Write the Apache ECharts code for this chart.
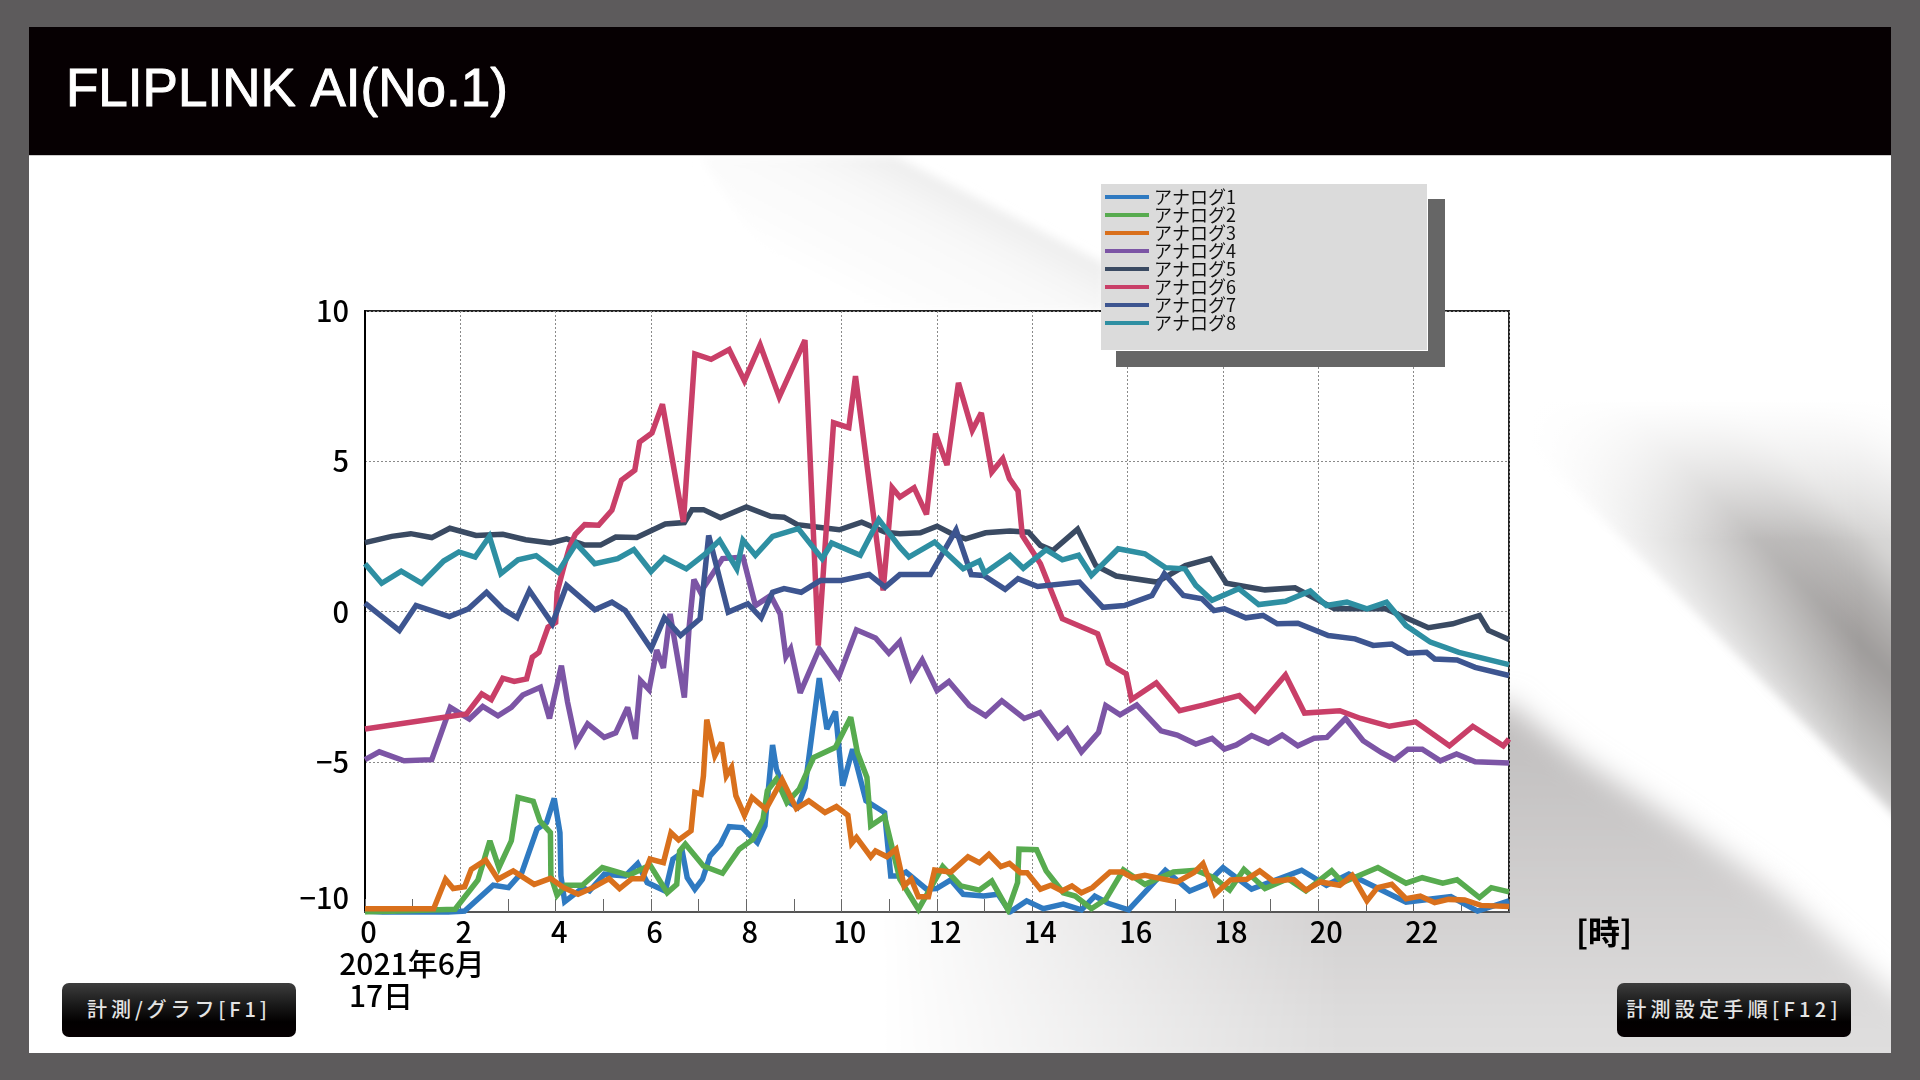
<!DOCTYPE html>
<html lang="ja"><head><meta charset="utf-8">
<script src="https://cdn.jsdelivr.net/npm/echarts@6/dist/echarts.min.js"></script>
<style>
html,body{margin:0;padding:0;width:1920px;height:1080px;overflow:hidden;background:#5d5b5c}
#bg{position:absolute;left:0;top:0;width:1920px;height:1080px}
#head{position:absolute;left:29px;top:27px;width:1862px;height:128px;background:#060002;border-bottom:1px solid #ccc}
#chart{position:absolute;left:0;top:0;width:1920px;height:1080px}
.btn{position:absolute;top:983px;height:54px;line-height:51px;border-radius:7px;text-align:center;color:#e4e4e4;
 background:linear-gradient(#3d3d3d 0%,#1a1a1a 40%,#020000 72%,#060002 100%);font-family:"Noto Sans CJK JP";font-weight:500;font-size:20px;white-space:nowrap}
</style></head><body>
<svg id="bg" viewBox="0 0 1920 1080" xmlns="http://www.w3.org/2000/svg">
 <defs>
  <clipPath id="pg"><rect x="29" y="27" width="1862" height="1026"/></clipPath>
  <filter id="b14" filterUnits="userSpaceOnUse" x="0" y="0" width="2100" height="1200"><feGaussianBlur stdDeviation="14"/></filter>
  <filter id="b5" filterUnits="userSpaceOnUse" x="0" y="0" width="2100" height="1200"><feGaussianBlur stdDeviation="5"/></filter>
  <linearGradient id="gT" gradientUnits="userSpaceOnUse" x1="1000" y1="211" x2="930" y2="345"><stop offset="0" stop-color="#eeeeee"/><stop offset=".3" stop-color="#f8f8f8"/><stop offset="1" stop-color="#fff"/></linearGradient>
  <linearGradient id="gA" gradientUnits="userSpaceOnUse" x1="1700" y1="618" x2="1920" y2="401">
   <stop offset="0" stop-color="#d8d7d7"/><stop offset=".08" stop-color="#c2c1c0"/><stop offset=".31" stop-color="#9e9b9a"/><stop offset=".45" stop-color="#b5b3b2"/><stop offset=".58" stop-color="#d5d4d3"/><stop offset=".76" stop-color="#e3e2e2"/><stop offset=".95" stop-color="#fff"/></linearGradient>
  <linearGradient id="mA" gradientUnits="userSpaceOnUse" x1="1530" y1="0" x2="1860" y2="0"><stop offset="0" stop-color="#000"/><stop offset="1" stop-color="#fff"/></linearGradient>
  <mask id="maskA" maskUnits="userSpaceOnUse" x="0" y="0" width="2100" height="1200"><rect x="0" y="0" width="2100" height="1200" fill="url(#mA)"/></mask>
  <linearGradient id="fadeA" gradientUnits="userSpaceOnUse" x1="0" y1="400" x2="0" y2="540"><stop offset="0" stop-color="#fff" stop-opacity="1"/><stop offset="1" stop-color="#fff" stop-opacity="0"/></linearGradient>
  <linearGradient id="gB" gradientUnits="userSpaceOnUse" x1="1600" y1="740" x2="1600" y2="1040"><stop offset="0" stop-color="#c2c0c0"/><stop offset=".45" stop-color="#cfcdcd"/><stop offset="1" stop-color="#dfdede"/></linearGradient>
  <linearGradient id="mB" gradientUnits="userSpaceOnUse" x1="880" y1="0" x2="1340" y2="0"><stop offset="0" stop-color="#000"/><stop offset="1" stop-color="#fff"/></linearGradient>
  <mask id="maskB" maskUnits="userSpaceOnUse" x="0" y="0" width="2100" height="1200"><rect x="0" y="0" width="2100" height="1200" fill="url(#mB)"/></mask>
 </defs>
 <g clip-path="url(#pg)">
  <rect x="29" y="27" width="1862" height="1026" fill="#fff"/>
  <polygon points="700,156 895,156 1105,264 1105,312 800,312" fill="url(#gT)" filter="url(#b5)"/>
  <g mask="url(#maskA)"><polygon points="1513,428 1891,812 1960,880 1960,340 1513,340" fill="url(#gA)" filter="url(#b5)"/></g>
  <rect x="1400" y="300" width="560" height="240" fill="url(#fadeA)"/>
  <g mask="url(#maskB)"><polygon points="1513,707 1580,759 1680,823 1780,893 1891,991 1960,1040 1960,1100 850,1100 850,900 1513,700" fill="url(#gB)" filter="url(#b14)"/></g>
 </g>
</svg>
<div id="head"></div>
<div id="chart"></div>
<div class="btn" style="left:62px;width:234px;letter-spacing:3.9px">計測/グラフ[F1]</div>
<div class="btn" style="left:1617px;width:234px;letter-spacing:4.3px">計測設定手順[F12]</div>
<script>
const seriesNames=['アナログ1','アナログ2','アナログ3','アナログ4','アナログ5','アナログ6','アナログ7','アナログ8'];
const seriesColors=['#2f7ac1','#57ab4f','#d9701c','#7c55a5','#3a4a62','#c93f68','#3d5590','#2e8fa2'];
const yTicks=[-10,-5,0,5,10];
const a1=[[0,-10.2],[2.09,-9.97],[2.69,-9.11],[3.01,-9.19],[3.29,-8.69],[3.61,-7.24],[3.81,-7.02],[3.97,-6.22],[4.09,-7.36],[4.11,-8.8],[4.19,-9.66],[4.57,-9.19],[4.71,-9.3],[5.02,-8.74],[5.46,-8.8],[5.72,-8.39],[5.92,-9.02],[6.3,-9.3],[6.46,-8.24],[6.66,-8.02],[6.76,-8.86],[6.92,-9.24],[7.08,-8.91],[7.24,-8.13],[7.46,-7.74],[7.64,-7.16],[7.91,-7.19],[8.23,-7.69],[8.39,-7.13],[8.55,-4.44],[8.63,-5.24],[8.91,-6.36],[9.07,-6.52],[9.23,-5.86],[9.53,-2.22],[9.69,-3.91],[9.87,-3.33],[10.02,-5.8],[10.23,-4.58],[10.51,-6.3],[10.9,-6.69],[11.03,-8.8],[11.2,-8.8],[11.35,-8.67],[11.78,-9.24],[11.99,-9.22],[12.29,-8.93],[12.55,-9.41],[12.98,-9.47],[13.28,-9.41],[13.53,-10],[13.88,-9.63],[14.23,-9.89],[14.65,-9.74],[15.03,-9.93],[15.31,-9.47],[15.59,-9.71],[16.02,-9.93],[16.79,-8.61],[17.3,-9.3],[17.64,-9.08],[18,-8.52],[18.6,-9.24],[19.65,-8.61],[20.17,-9.11],[20.64,-8.74],[21.84,-9.67],[22.78,-9.49],[23.34,-9.97],[24,-9.63]];
const a2=[[0,-10],[1.89,-9.91],[2.37,-8.93],[2.62,-7.63],[2.81,-8.52],[3.07,-7.63],[3.21,-6.19],[3.53,-6.32],[3.67,-6.97],[3.89,-7.36],[3.9,-8.8],[4.03,-9.44],[4.21,-9.11],[4.56,-9.11],[4.98,-8.52],[5.54,-8.78],[5.98,-8.44],[6.34,-9.36],[6.54,-9.08],[6.6,-7.97],[6.72,-7.74],[7.1,-8.47],[7.5,-8.71],[7.85,-7.91],[8.14,-7.58],[8.35,-6.91],[8.44,-5.97],[8.63,-5.58],[8.85,-6.36],[9.11,-5.91],[9.41,-4.86],[9.87,-4.52],[10.19,-3.52],[10.33,-4.69],[10.53,-5.52],[10.61,-7.13],[10.9,-6.82],[11.22,-8.91],[11.61,-9.91],[12.12,-8.49],[12.5,-9.13],[12.89,-9.27],[13.15,-8.97],[13.49,-9.93],[13.69,-9.02],[13.72,-7.91],[14.09,-7.93],[14.29,-8.63],[14.65,-9.36],[14.9,-9.47],[15.24,-9.89],[15.54,-9.58],[15.91,-8.6],[16.36,-9.08],[16.96,-8.67],[17.43,-8.61],[17.81,-8.86],[18.14,-9.27],[18.44,-8.58],[18.88,-9.22],[19.36,-8.89],[19.74,-9.3],[20.28,-8.63],[20.51,-9.02],[21.25,-8.52],[21.84,-9.04],[22.18,-8.86],[22.61,-9.04],[22.91,-8.93],[23.38,-9.52],[23.63,-9.19],[24,-9.33]];
const a3=[[0,-9.89],[1.44,-9.89],[1.69,-8.91],[1.85,-9.22],[2.09,-9.16],[2.23,-8.58],[2.53,-8.27],[2.79,-8.91],[3.11,-8.63],[3.55,-9.08],[3.89,-8.88],[4.17,-9.19],[4.47,-9.41],[4.78,-9.19],[5.12,-8.89],[5.34,-9.22],[5.6,-8.89],[5.82,-8.89],[5.98,-8.24],[6.26,-8.36],[6.42,-7.36],[6.58,-7.6],[6.84,-7.3],[6.92,-6.02],[7.05,-6.08],[7.1,-5.47],[7.17,-3.6],[7.34,-4.8],[7.48,-4.36],[7.58,-5.47],[7.69,-5.19],[7.78,-6.13],[7.96,-6.78],[8.12,-6.19],[8.41,-6.58],[8.75,-5.6],[9.05,-6.56],[9.31,-6.3],[9.65,-6.69],[9.89,-6.49],[10.13,-6.78],[10.21,-7.71],[10.31,-7.52],[10.61,-8.16],[10.71,-7.97],[10.95,-8.16],[11.14,-7.91],[11.31,-9.13],[11.46,-8.91],[11.61,-9.49],[11.82,-9.49],[11.95,-8.6],[12.29,-8.67],[12.65,-8.16],[12.89,-8.36],[13.09,-8.08],[13.34,-8.49],[13.52,-8.38],[13.75,-8.69],[13.89,-8.69],[14.17,-9.24],[14.39,-9.11],[14.62,-9.3],[14.83,-9.13],[15.03,-9.36],[15.26,-9.19],[15.63,-8.67],[15.89,-8.67],[16.1,-8.86],[16.36,-8.78],[17.04,-9],[17.39,-8.69],[17.58,-8.39],[17.83,-9.41],[18.16,-8.93],[18.5,-8.91],[18.77,-8.63],[19.05,-8.97],[19.48,-8.91],[19.74,-9.27],[20.04,-9],[20.45,-9.11],[20.71,-8.78],[21.02,-9.63],[21.24,-9.19],[21.54,-9.08],[21.84,-9.56],[22.14,-9.47],[22.44,-9.69],[22.73,-9.58],[23.07,-9.6],[23.41,-9.78],[24,-9.82]];
const a4=[[0,-4.93],[.3,-4.67],[.82,-4.97],[1.4,-4.93],[1.79,-3.19],[2.19,-3.58],[2.47,-3.16],[2.79,-3.47],[3.07,-3.19],[3.31,-2.78],[3.68,-2.52],[3.87,-3.56],[4.12,-1.8],[4.25,-3.02],[4.43,-4.38],[4.67,-3.74],[5.02,-4.19],[5.26,-4.04],[5.51,-3.19],[5.67,-4.24],[5.78,-2.3],[5.96,-2.6],[6.12,-1.28],[6.26,-1.88],[6.4,-.08],[6.7,-2.86],[6.8,-.52],[6.9,1.06],[7.04,.64],[7.5,1.76],[7.93,1.81],[8.19,.2],[8.51,.53],[8.71,-.08],[8.83,-1.5],[8.93,-1.24],[9.13,-2.71],[9.53,-1.24],[9.94,-2.17],[10.31,-.61],[10.71,-.88],[10.99,-1.39],[11.22,-1],[11.46,-2.21],[11.69,-1.61],[12,-2.63],[12.25,-2.33],[12.68,-3.13],[13.02,-3.47],[13.36,-2.97],[13.83,-3.56],[14.16,-3.36],[14.54,-4.19],[14.73,-3.91],[15.03,-4.67],[15.39,-4.02],[15.54,-3.13],[15.84,-3.44],[16.19,-3.11],[16.7,-3.97],[17.04,-4.11],[17.43,-4.41],[17.77,-4.22],[18.03,-4.58],[18.28,-4.44],[18.6,-4.13],[18.95,-4.38],[19.24,-4.11],[19.57,-4.47],[19.91,-4.22],[20.18,-4.19],[20.57,-3.56],[20.94,-4.3],[21.32,-4.69],[21.6,-4.93],[21.88,-4.58],[22.18,-4.58],[22.56,-4.97],[22.9,-4.74],[23.29,-5],[24,-5.04]];
const a5=[[0,2.29],[.56,2.5],[.96,2.59],[1.4,2.46],[1.78,2.77],[2.33,2.53],[2.89,2.57],[3.37,2.39],[3.89,2.28],[4.23,2.42],[4.61,2.21],[4.94,2.21],[5.26,2.48],[5.7,2.46],[6.3,2.91],[6.7,2.96],[6.86,3.39],[7.1,3.39],[7.46,3.12],[8,3.48],[8.51,3.17],[8.79,3.14],[9.07,2.89],[9.47,2.81],[9.95,2.72],[10.42,2.97],[10.91,2.64],[11.22,2.59],[11.65,2.62],[12,2.84],[12.33,2.57],[12.6,2.42],[13.02,2.62],[13.53,2.68],[13.92,2.64],[14.17,2.2],[14.43,2.03],[14.95,2.74],[15.33,1.53],[15.76,1.18],[16.61,.98],[17.21,1.53],[17.74,1.76],[18.07,.94],[18.88,.72],[19.51,.79],[20.34,.09],[21.41,.09],[22.31,-.54],[22.82,-.41],[23.38,-.13],[23.57,-.63],[24,-.93]];
const a6=[[0,-3.91],[2.13,-3.41],[2.45,-2.74],[2.65,-2.93],[2.89,-2.22],[3.13,-2.33],[3.39,-2.24],[3.51,-1.52],[3.65,-1.36],[3.84,-.52],[4,-.36],[4.03,.64],[4.17,1.48],[4.29,2.14],[4.41,2.57],[4.61,2.89],[4.9,2.87],[5.18,3.37],[5.38,4.37],[5.66,4.7],[5.76,5.64],[6.02,5.94],[6.24,6.9],[6.68,2.98],[6.92,8.57],[7.26,8.39],[7.64,8.72],[7.96,7.68],[8.29,8.87],[8.69,7.14],[9.23,9.03],[9.51,-1.13],[9.83,6.28],[10.15,6.12],[10.29,7.83],[10.87,.7],[11.06,4.12],[11.22,3.81],[11.52,4.12],[11.78,3.23],[11.97,5.92],[12.21,4.87],[12.45,7.61],[12.74,6.03],[12.93,6.61],[13.15,4.64],[13.38,5.09],[13.52,4.42],[13.7,4.01],[13.79,2.53],[14.17,1.59],[14.63,-.24],[15.37,-.74],[15.59,-1.72],[15.97,-2.08],[16.08,-2.93],[16.6,-2.38],[17.09,-3.3],[17.6,-3.11],[18.34,-2.8],[18.67,-3.3],[19.31,-2.11],[19.71,-3.38],[20.45,-3.3],[20.89,-3.56],[21.49,-3.82],[22.04,-3.67],[22.75,-4.47],[23.24,-3.82],[23.88,-4.47],[24,-4.24]];
const a7=[[0,.28],[.72,-.63],[1.07,.2],[1.77,-.17],[2.17,.09],[2.55,.64],[2.89,.09],[3.19,-.21],[3.45,.7],[3.93,-.41],[4.23,.87],[4.82,.06],[5.18,.31],[5.46,.03],[6,-1.24],[6.28,-.21],[6.62,-.8],[7.03,-.24],[7.21,2.53],[7.62,-.02],[8.03,.26],[8.31,-.21],[8.55,.64],[8.79,.76],[9.15,.64],[9.55,1.03],[9.99,1.03],[10.58,1.23],[10.91,.81],[11.22,1.23],[11.86,1.23],[12.4,2.72],[12.72,1.23],[12.98,1.2],[13.43,.74],[13.7,1.09],[14.11,.83],[14.99,.98],[15.48,.14],[15.93,.2],[16.51,.53],[16.77,1.26],[17.17,.53],[17.56,.42],[17.81,.03],[18.03,.09],[18.48,-.21],[18.84,-.13],[19.14,-.41],[19.57,-.39],[20.21,-.8],[20.77,-.91],[21.15,-1.13],[21.54,-1.08],[21.88,-1.39],[22.27,-1.36],[22.44,-1.58],[22.91,-1.61],[23.29,-1.86],[24,-2.13]];
const a8=[[0,1.59],[.35,.94],[.76,1.34],[1.19,.94],[1.65,1.68],[1.97,1.98],[2.31,1.81],[2.61,2.5],[2.85,1.26],[3.21,1.72],[3.59,1.86],[4.05,1.31],[4.43,2.26],[4.82,1.59],[5.3,1.76],[5.64,2.06],[6,1.33],[6.28,1.79],[6.74,1.42],[7.14,1.92],[7.44,2.37],[7.8,1.42],[7.93,2.37],[8.19,1.87],[8.55,2.5],[9.09,2.76],[9.59,1.76],[9.79,2.28],[10.39,1.87],[10.78,3.06],[11.22,2.14],[11.41,1.81],[11.95,2.31],[12.55,1.42],[12.89,1.68],[13,1.28],[13.53,1.87],[13.81,1.44],[14.29,2.06],[14.63,1.72],[14.97,1.87],[15.24,1.2],[15.8,2.09],[16.36,1.92],[16.79,1.46],[17.2,1.42],[17.43,.87],[17.77,.37],[18.33,.76],[18.75,.23],[19.31,.34],[19.83,.68],[20.17,.2],[20.6,.31],[21.02,.09],[21.43,.31],[21.84,-.47],[22.35,-1.02],[22.95,-1.36],[24,-1.77]];
const seriesData=[a1,a2,a3,a4,a5,a6,a7,a8];
const FONT='"Noto Sans CJK JP",sans-serif';
const chart=echarts.init(document.getElementById('chart'),null,{width:1920,height:1080});
chart.setOption({
 animation:false,
 backgroundColor:'transparent',
 title:{text:'FLIPLINK AI(No.1)',left:61,top:60,textStyle:{color:'#fff',fontFamily:'"Liberation Sans"',fontSize:53,fontWeight:'normal',textBorderColor:'#fff',textBorderWidth:1}},
 legend:{orient:'vertical',left:1100,top:183,itemWidth:44,itemHeight:4,itemGap:0,icon:'rect',selectedMode:false,
  data:seriesNames,textStyle:{fontFamily:FONT,fontSize:18,color:'#111',lineHeight:18,height:18}},
 grid:{left:365,top:311,width:1144,height:601,show:true,backgroundColor:'#fff',borderColor:'#222',borderWidth:2},
 xAxis:{type:'value',min:0,max:24,interval:2,
  axisLine:{show:true,onZero:false,lineStyle:{color:'#555',width:2}},
  axisTick:{show:true,inside:true,length:13,lineStyle:{color:'#666',width:1}},
  minorTick:{show:true,splitNumber:2,length:13,lineStyle:{color:'#666',width:1}},
  splitLine:{show:true,lineStyle:{color:'#8a8a8a',type:[2,2],width:1}},
  axisLabel:{margin:5,showMaxLabel:false,color:'#000',fontFamily:FONT,fontWeight:500,fontSize:29,
   formatter:v=>v>=24?'':(v>=10?'{b|'+v+'}':'{a|'+v+'}'),
   rich:{a:{fontFamily:FONT,fontWeight:500,fontSize:29,color:'#000',padding:[0,0,0,7]},b:{fontFamily:FONT,fontWeight:500,fontSize:29,color:'#000',padding:[0,0,0,16]}}}},
 yAxis:{type:'value',min:yTicks[0],max:yTicks[4],interval:5,
  axisLine:{show:true,onZero:false,lineStyle:{color:'#000',width:2}},
  axisTick:{show:false},
  splitLine:{show:true,lineStyle:{color:'#8a8a8a',type:[2,2],width:1}},
  axisLabel:{margin:16,color:'#000',fontFamily:FONT,fontWeight:500,fontSize:29,verticalAlignMinLabel:'bottom',
   formatter:v=>v<0?'\u2212'+Math.abs(v):String(v)}},
 graphic:[
  {type:'rect',z:3,shape:{x:1116,y:199,width:329,height:168},style:{fill:'#666'}},
  {type:'rect',z:3,shape:{x:1101,y:184,width:327,height:167},style:{fill:'#fff'}},
  {type:'rect',z:3,shape:{x:1101,y:184,width:326,height:166},style:{fill:'#dbdbdb'}},
  {type:'text',z:5,style:{x:412,y:964,text:'2021年6月',align:'center',verticalAlign:'middle',font:'500 30px '+FONT,fill:'#000'}},
  {type:'text',z:5,style:{x:381,y:996,text:'17日',align:'center',verticalAlign:'middle',font:'500 30px '+FONT,fill:'#000'}},
  {type:'text',z:5,style:{x:1604,y:932,text:'[時]',align:'center',verticalAlign:'middle',font:'700 32px '+FONT,fill:'#000'}}
 ],
 series:seriesNames.map((n,i)=>({name:n,type:'line',data:seriesData[i],showSymbol:false,symbol:'none',smooth:false,
  lineStyle:{color:seriesColors[i],width:5.5,join:'miter',miterLimit:3},itemStyle:{color:seriesColors[i]},z:2}))
});
</script>
</body></html>
